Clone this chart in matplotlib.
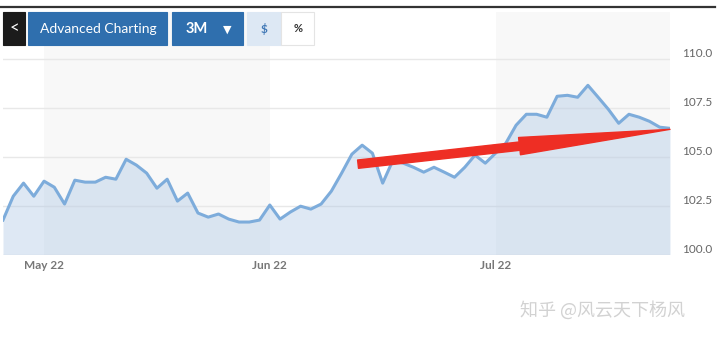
import matplotlib
matplotlib.use("Agg")
import matplotlib.pyplot as plt
from matplotlib.patches import Rectangle
from matplotlib.lines import Line2D
import numpy as np
import pandas as pd

plt.rcParams["font.family"] = ["Lato", "DejaVu Sans"]

# Daily closes, one per weekday
dates = pd.bdate_range("2022-04-26", periods=66)
values = [
    101.76, 102.98, 103.65, 102.98, 103.75, 103.44, 102.58, 103.80, 103.70, 103.70,
    103.95, 103.85, 104.87, 104.57, 104.16, 103.39, 103.85, 102.73, 103.14, 102.12,
    101.91, 102.07, 101.81, 101.66, 101.66, 101.76, 102.53, 101.81, 102.17, 102.47,
    102.32, 102.58, 103.24, 104.16, 105.13, 105.59, 105.18, 103.65, 104.82, 104.67,
    104.46, 104.21, 104.46, 104.21, 103.95, 104.46, 105.08, 104.67, 105.18, 105.69,
    106.61, 107.17, 107.17, 107.02, 108.09, 108.14, 108.04, 108.65, 108.04, 107.42,
    106.71, 107.17, 107.02, 106.81, 106.51, 106.45,
]
y_ticks = [100.0, 102.5, 105.0, 107.5, 110.0]
y_min, y_max = 100.0, 112.4

# arrow annotation drawn on the screenshot (index, value)
arrow_from = (34.6, 104.62)
arrow_to = (65.0, 106.40)

W, H = 720, 339
LINE = "#7dacdb"
FILL = "#a9c4e4"
BAND = "#f8f8f8"

x = np.arange(len(values))
month_starts = [i for i in range(1, len(dates)) if dates[i].month != dates[i - 1].month]
month_labels = [dates[i].strftime("%b %y") for i in month_starts]

fig = plt.figure(figsize=(W / 100, H / 100), dpi=100)
ax = fig.add_axes([3 / W, 84.5 / H, 667 / W, 242.5 / H])

# alternating month bands
edges = month_starts + [len(values) - 1]
for k in range(0, len(month_starts), 2):
    ax.axvspan(edges[k], edges[k + 1], color=BAND, lw=0, zorder=0)

for v in y_ticks:
    ax.axhline(v, color="#e8e8e8", lw=1, zorder=1)

ax.fill_between(x, values, y_min, color=FILL, alpha=0.38, lw=0, zorder=2)
ax.plot(x, values, color=LINE, lw=2.2, zorder=3, solid_joinstyle="round")

ax.annotate("", xy=arrow_to, xytext=arrow_from,
            arrowprops=dict(arrowstyle="simple,head_length=10.9,head_width=1.25,tail_width=0.6",
                            color="#ee2e24", shrinkA=0, shrinkB=0, mutation_scale=10),
            zorder=5)

ax.set_xlim(0, len(values) - 1)
ax.set_ylim(y_min, y_max)
ax.set_xticks(month_starts)
ax.set_xticklabels(month_labels, color="#777777", fontsize=8.5, fontweight="bold")
ax.yaxis.tick_right()
ax.set_yticks(y_ticks)
ax.set_yticklabels([f"{v:.1f}" for v in y_ticks], color="#666666", fontsize=8.5)
for lab in ax.get_yticklabels():
    lab.set_verticalalignment("bottom")
ax.tick_params(axis="x", length=0, pad=4)
ax.tick_params(axis="y", length=0, pad=9)
for s in ax.spines.values():
    s.set_visible(False)


def box(x0, y0, x1, y1, color, edge=None):
    fig.add_artist(Rectangle((x0 / W, 1 - y1 / H), (x1 - x0) / W, (y1 - y0) / H,
                             transform=fig.transFigure, facecolor=color,
                             edgecolor=edge or color, lw=0.8, zorder=10))


def label(xc, yc, s, **kw):
    fig.text(xc / W, 1 - yc / H, s, ha="center", va="center", zorder=11, **kw)


# top bar and buttons
fig.add_artist(Line2D([0, 715 / W], [1 - 6.5 / H] * 2, color="#333333", lw=1.6,
                      transform=fig.transFigure))
box(3, 12, 25, 45, "#1b1b1b")
label(14, 28, "<", color="white", fontsize=12)
box(28, 12, 167, 45, "#2f6fae")
label(98, 29, "Advanced Charting", color="white", fontsize=10)
box(172, 12, 243, 45, "#2f6fae")
label(197, 29, "3M", color="white", fontsize=10.5, fontweight="bold")
label(227, 29, "▼", color="white", fontsize=8)
box(247, 12, 281, 45, "#dde8f4")
label(264, 29, "$", color="#3f77b5", fontsize=8.5, fontweight="bold")
box(281, 12, 314, 45, "white", edge="#e4e4e4")
label(298, 29, "%", color="#333333", fontsize=8, fontweight="bold")

# watermark
label(603, 310, "知乎 @风云天下杨风", color="#d2d2d2", fontsize=13,
      family=["Noto Sans CJK SC", "DejaVu Sans"])

fig.savefig("out.png", dpi=100, facecolor="white")
